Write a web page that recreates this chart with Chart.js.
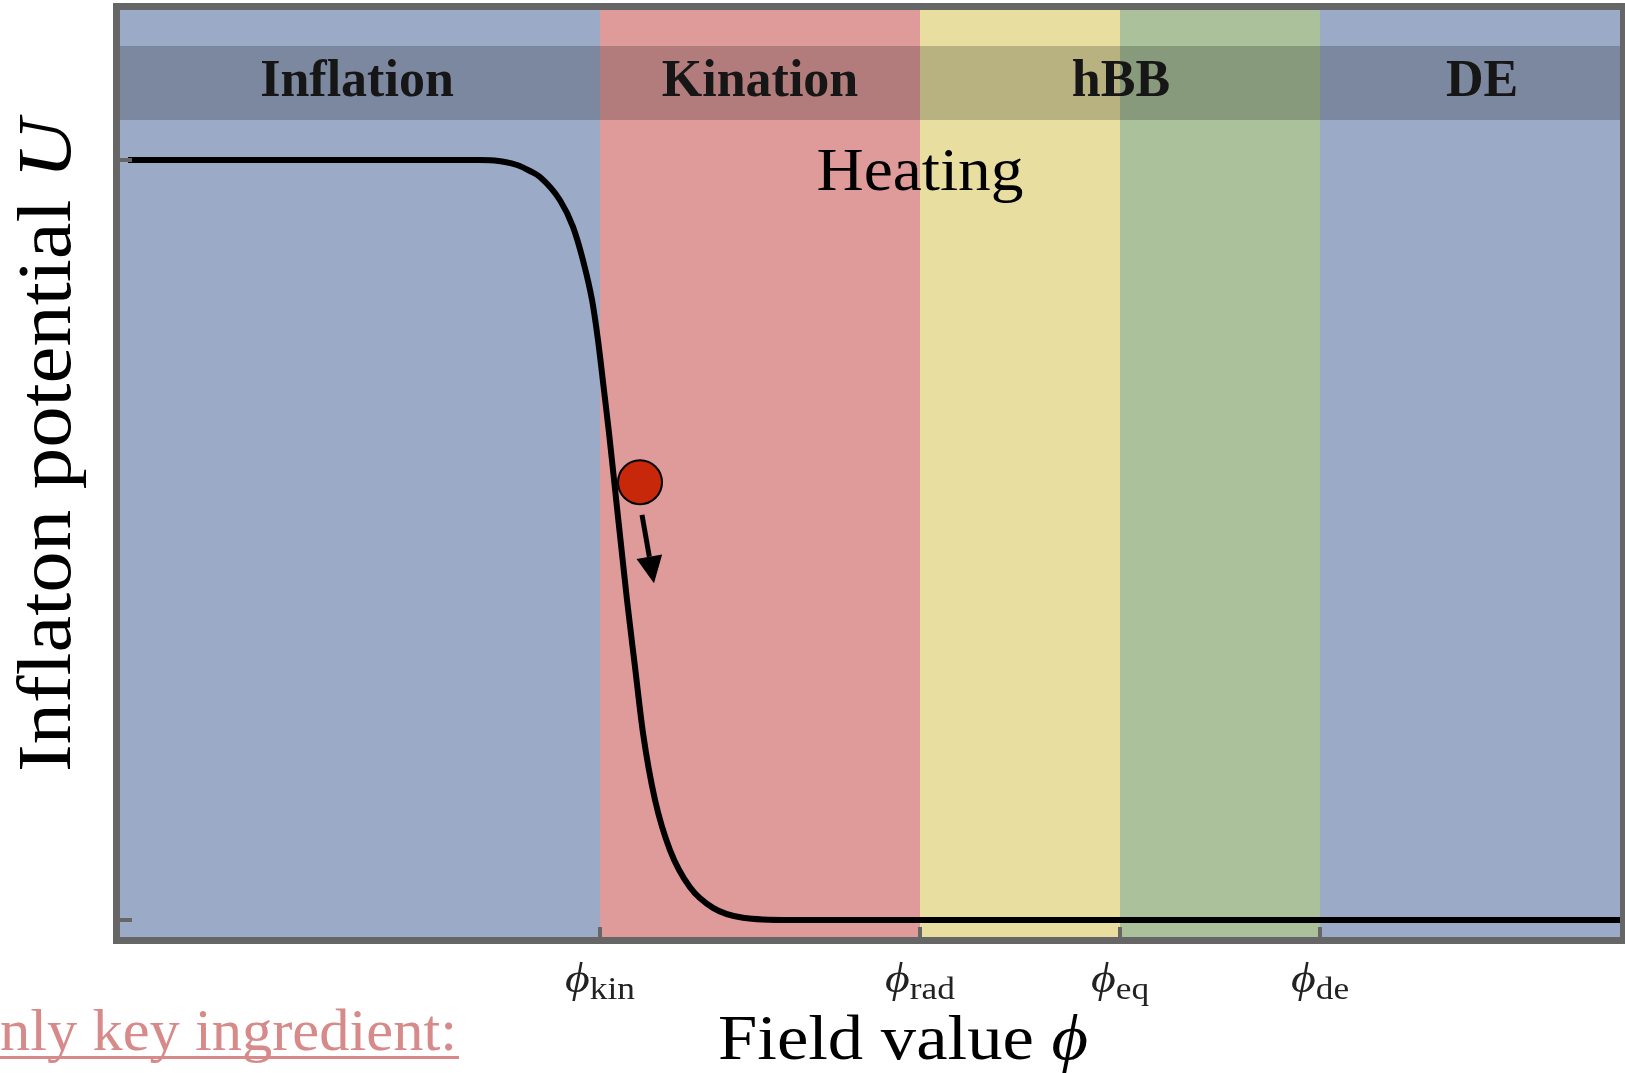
<!DOCTYPE html>
<html><head><meta charset="utf-8">
<script src="https://cdn.jsdelivr.net/npm/chart.js@4"></script>
<style>html,body{margin:0;padding:0;background:#fff;overflow:hidden}canvas{display:block}</style>
</head><body>
<canvas id="c" width="1625" height="1073" style="width:1625px;height:1073px"></canvas>
<script>
// ---- data ----
const fieldValues     = [0.08, 3.60, 3.70, 3.85, 3.97, 4.10, 4.20, 4.40, 4.53, 4.63, 4.72, 4.78, 4.84, 4.89, 4.943, 5.07, 5.15, 5.23, 5.35, 5.50, 5.70, 5.93, 6.23, 6.70, 15.0];
const potentialValues = [1.000, 1.000, 0.9996, 0.9974, 0.9934, 0.9855, 0.9776, 0.947, 0.912, 0.868, 0.816, 0.763, 0.697, 0.641, 0.576, 0.421, 0.333, 0.246, 0.158, 0.092, 0.043, 0.016, 0.003, 0.000, 0.000];
const ballField = [5.20];
const ballPotential = [0.576];
const arrowFrom = [5.22, 0.533];
const arrowTo   = [5.34, 0.443];
const tickValues = [4.8, 8, 10, 12];
const tickSubscripts = ['kin', 'rad', 'eq', 'de'];
const yTickValues = [0, 1];
const bandStarts = [0, 4.8, 8, 10, 12];
const bandEnds   = [4.8, 8, 10, 12, 15];
const bandColors = ['#9aaac7', '#de9b9a', '#e7dea0', '#abc19b', '#9aaac7'];
const eraNames  = ['Inflation', 'Kination', 'hBB', 'DE'];
const eraLabelX = [2.37, 6.40, 10.01, 13.62];
const heatingLabel = 'Heating';
const heatingX = 8.0;
const xTitle = ['Field value ', 'ϕ'];
const yTitle = ['Inflaton potential ', 'U'];
const sideNote = 'Only key ingredient:';

const SERIF = "'Liberation Serif', 'DejaVu Serif', serif";

function drawRuns(ctx, parts, x, y, align, opt) {
  opt = opt || {};
  const widths = parts.map(p => { ctx.font = p.font; return ctx.measureText(p.text).width; });
  const total = widths.reduce((s, w) => s + w, 0);
  const sx = opt.width ? opt.width / total : (opt.stretch || 1);
  ctx.save();
  ctx.translate(x, y);
  ctx.scale(sx, 1);
  let start = align === 'center' ? -total / 2 : (align === 'right' ? -total : 0);
  ctx.textAlign = 'left';
  ctx.textBaseline = 'alphabetic';
  parts.forEach((p, i) => {
    ctx.font = p.font;
    ctx.fillStyle = p.color || opt.color || '#000';
    ctx.fillText(p.text, start, p.dy || 0);
    start += widths[i];
  });
  ctx.restore();
}

const deco = {
  id: 'deco',
  beforeDatasetsDraw(chart) {
    const {ctx, chartArea: a, scales: {x, y}} = chart;
    ctx.save();
    bandStarts.forEach((s, i) => {
      const l = Math.round(x.getPixelForValue(s));
      const r = Math.round(x.getPixelForValue(bandEnds[i]));
      ctx.fillStyle = bandColors[i];
      ctx.fillRect(l, a.top, r - l, a.bottom - a.top);
    });
    // header strip
    const hTop = y.getPixelForValue(1.15), hBot = y.getPixelForValue(1.0526);
    ctx.fillStyle = 'rgba(0,0,0,0.2)';
    ctx.fillRect(a.left, hTop, a.right - a.left, hBot - hTop);
    eraNames.forEach((n, i) => {
      drawRuns(ctx, [{text: n, font: 'bold 52px ' + SERIF}], x.getPixelForValue(eraLabelX[i]), y.getPixelForValue(1.084),
        'center', {color: '#161616'});
    });
    drawRuns(ctx, [{text: heatingLabel, font: '62px ' + SERIF}], x.getPixelForValue(heatingX), y.getPixelForValue(0.9605),
      'center', {width: 207});
    ctx.restore();
  },
  afterDatasetsDraw(chart) {
    const {ctx, chartArea: a, scales: {x, y}} = chart;
    ctx.save();
    // arrow
    const x0 = x.getPixelForValue(arrowFrom[0]), y0 = y.getPixelForValue(arrowFrom[1]);
    const x1 = x.getPixelForValue(arrowTo[0]), y1 = y.getPixelForValue(arrowTo[1]);
    const ang = Math.atan2(y1 - y0, x1 - x0);
    const headL = 27, headW = 13;
    const bx = x1 - headL * Math.cos(ang), by = y1 - headL * Math.sin(ang);
    ctx.strokeStyle = '#000'; ctx.fillStyle = '#000';
    ctx.lineWidth = 5; ctx.lineCap = 'butt';
    ctx.beginPath(); ctx.moveTo(x0, y0); ctx.lineTo(bx, by); ctx.stroke();
    ctx.beginPath();
    ctx.moveTo(x1, y1);
    ctx.lineTo(bx + headW * Math.sin(ang), by - headW * Math.cos(ang));
    ctx.lineTo(bx - headW * Math.sin(ang), by + headW * Math.cos(ang));
    ctx.closePath(); ctx.fill();
    // frame
    ctx.strokeStyle = '#666'; ctx.lineWidth = 7;
    ctx.strokeRect(a.left - 3.5, a.top - 3.5, a.right - a.left + 7, a.bottom - a.top + 7);
    // ticks
    ctx.lineWidth = 4;
    tickValues.forEach(v => {
      const px = x.getPixelForValue(v);
      ctx.beginPath(); ctx.moveTo(px, a.bottom); ctx.lineTo(px, a.bottom - 10); ctx.stroke();
    });
    yTickValues.forEach(v => {
      const py = y.getPixelForValue(v);
      ctx.beginPath(); ctx.moveTo(a.left, py); ctx.lineTo(a.left + 12, py); ctx.stroke();
    });
    // tick labels
    tickValues.forEach((v, i) => {
      drawRuns(ctx, [
        {text: 'ϕ', font: 'italic 42px ' + SERIF},
        {text: tickSubscripts[i], font: '31px ' + SERIF, dy: 7}
      ], x.getPixelForValue(v), a.bottom + 55, 'center', {stretch: 1.14, color: '#222'});
    });
    // x title
    drawRuns(ctx, [
      {text: xTitle[0], font: '63px ' + SERIF},
      {text: xTitle[1], font: 'italic 63px ' + SERIF}
    ], (a.left + a.right) / 2 + 33, a.bottom + 122, 'center', {width: 370});
    // y title
    ctx.save();
    ctx.translate(70, (a.top + a.bottom) / 2 - 28);
    ctx.rotate(-Math.PI / 2);
    drawRuns(ctx, [
      {text: yTitle[0], font: '76px ' + SERIF},
      {text: yTitle[1], font: 'italic 76px ' + SERIF}
    ], 0, 0, 'center', {width: 653});
    ctx.restore();
    // side note (cropped at left edge)
    ctx.font = '60px ' + SERIF;
    const part = ctx.measureText(sideNote.slice(1)).width;
    drawRuns(ctx, [{text: sideNote, font: '60px ' + SERIF}], 457, 1050, 'right', {stretch: 457 / part, color: '#d68a8a'});
    ctx.fillStyle = '#d68a8a';
    ctx.fillRect(0, 1056, 459, 3);
    ctx.restore();
  }
};

new Chart(document.getElementById('c'), {
  type: 'line',
  data: {
    datasets: [
      {
        label: 'ball', order: 0, showLine: false,
        data: ballField.map((v, i) => ({x: v, y: ballPotential[i]})),
        pointRadius: 22, pointHoverRadius: 22,
        pointBackgroundColor: '#c8280a', pointBorderColor: '#000', pointBorderWidth: 2
      },
      {
        label: 'U', order: 1,
        data: fieldValues.map((v, i) => ({x: v, y: potentialValues[i]})),
        borderColor: '#000', borderWidth: 6, pointRadius: 0,
        cubicInterpolationMode: 'monotone', fill: false
      }
    ]
  },
  options: {
    responsive: false, animation: false, devicePixelRatio: 1,
    layout: {autoPadding: false, padding: {left: 120, right: 5, top: 10, bottom: 136}},
    plugins: {legend: {display: false}, tooltip: {enabled: false}},
    events: [],
    scales: {
      x: {type: 'linear', min: 0, max: 15, display: false},
      y: {type: 'linear', min: -0.02237, max: 1.19737, display: false}
    }
  },
  plugins: [deco]
});
</script>
</body></html>
